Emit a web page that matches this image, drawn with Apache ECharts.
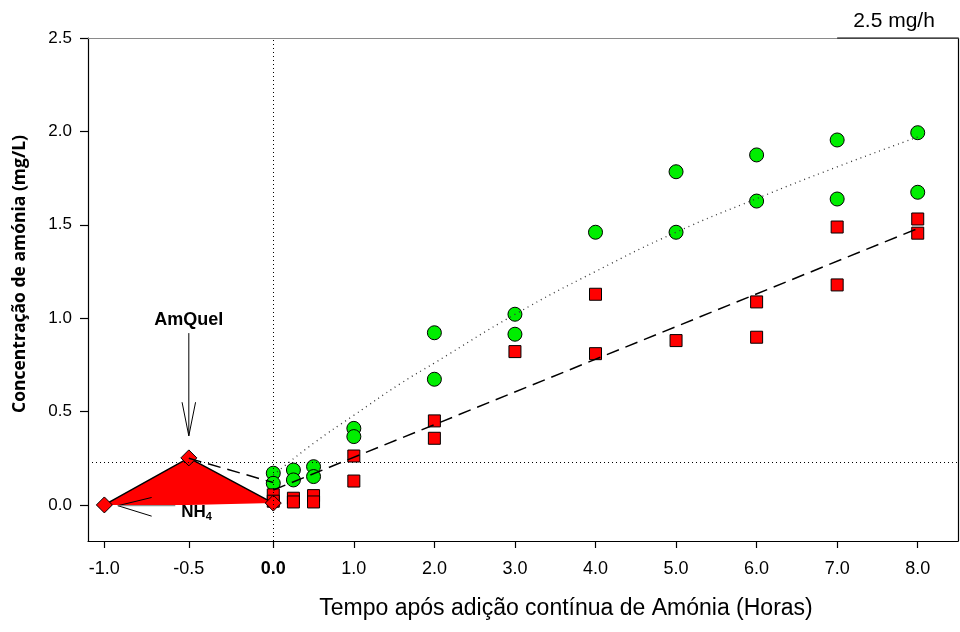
<!DOCTYPE html>
<html>
<head>
<meta charset="utf-8">
<script src="https://cdn.jsdelivr.net/npm/echarts@6/dist/echarts.min.js"></script>
<style>
html,body{margin:0;padding:0;background:#fff;}
#c{width:960px;height:632px;}
</style>
</head>
<body>
<div id="c"></div>
<script>
// ---- data (time in hours, concentration in mg/L) ----
const greenT = [0, 0, 0.25, 0.25, 0.5, 0.5, 1, 1, 2, 2, 3, 3, 4, 5, 5, 6, 6, 7, 7, 8, 8];
const greenV = [0.17, 0.116, 0.187, 0.134, 0.205, 0.152, 0.41, 0.366, 0.922, 0.673, 1.021, 0.914, 1.46, 1.784, 1.46, 1.874, 1.627, 1.954, 1.638, 1.993, 1.674];
const redT = [0, 0, 0.25, 0.25, 0.5, 0.5, 1, 1, 2, 2, 3, 4, 4, 5, 6, 6, 7, 7, 8, 8];
const redV = [0.054, 0.02, 0.036, 0.016, 0.05, 0.016, 0.262, 0.128, 0.45, 0.357, 0.821, 1.128, 0.81, 0.88, 1.087, 0.898, 1.488, 1.178, 1.531, 1.455];
const diamondT = [-1, -0.5, 0];
const diamondV = [0, 0.252, 0.01];
const greenFitT = [0, 0.5, 1, 1.58, 2, 3, 4, 5, 6, 7, 8];
const greenFitV = [0.16, 0.33, 0.48, 0.65, 0.76, 1.02, 1.25, 1.46, 1.64, 1.81, 1.97];
const redFitT = [0, 8];
const redFitV = [0.08, 1.48];
const amquelLinkT = [-0.5, 0];
const amquelLinkV = [0.25, 0.12];
const refLineV = 0.225;
const xTickT = [-1, -0.5, 0, 1, 2, 3, 4, 5, 6, 7, 8];
const xTickLabels = ['-1.0', '-0.5', '0.0', '1.0', '2.0', '3.0', '4.0', '5.0', '6.0', '7.0', '8.0'];
const yTicks = [0, 0.5, 1.0, 1.5, 2.0, 2.5];
const yTickLabels = ['0.0', '0.5', '1.0', '1.5', '2.0', '2.5'];
const rateLabel = '2.5 mg/h';
const xTitle = 'Tempo após adição contínua de Amónia (Horas)';
const yTitle = 'Concentração de amónia (mg/L)';

// the pre-addition hour is drawn wider than the others (broken scale)
const NEG = 2.097;
function toU(t) { return t < 0 ? t * NEG : t; }
function pts(ts, vs) { return ts.map((t, i) => [toU(t), vs[i]]); }

const xTickU = xTickT.map(toU);

const chart = echarts.init(document.getElementById('c'));
const narrow = '"Liberation Sans Narrow", "Arial Narrow", "Liberation Sans", Arial, sans-serif';
const sans = '"Liberation Sans", Arial, sans-serif';

chart.setOption({
  animation: false,
  backgroundColor: '#fff',
  grid: { left: 88, right: 2, top: 38, bottom: 91, containLabel: false, outerBoundsMode: 'none' },
  xAxis: [{
    type: 'value', min: -2.3, max: 8.5,
    splitLine: { show: false },
    axisLine: { show: true, onZero: false, lineStyle: { color: '#000', width: 1.2 } },
    axisTick: { show: true, customValues: xTickU, length: 7, inside: false, lineStyle: { color: '#000', width: 1.2 } },
    axisLabel: {
      customValues: xTickU, margin: 19, fontSize: 18, color: '#000', fontFamily: narrow,
      formatter: function (v) {
        let idx = 0, best = 1e9;
        xTickU.forEach((u, i) => { if (Math.abs(u - v) < best) { best = Math.abs(u - v); idx = i; } });
        return xTickT[idx] === 0 ? '{b|' + xTickLabels[idx] + '}' : xTickLabels[idx];
      },
      rich: { b: { fontWeight: 'bold', fontSize: 18, fontFamily: narrow, color: '#000' } }
    }
  }, {
    type: 'value', min: -2.3, max: 8.5, position: 'top',
    splitLine: { show: false }, axisTick: { show: false }, axisLabel: { show: false },
    axisLine: { show: true, onZero: false, lineStyle: { color: '#8a8a8a', width: 1 } }
  }],
  yAxis: [{
    type: 'value', min: -0.193, max: 2.5,
    splitLine: { show: false },
    axisLine: { show: true, onZero: false, lineStyle: { color: '#000', width: 1.2 } },
    axisTick: { show: true, customValues: yTicks, length: 8, lineStyle: { color: '#000', width: 1.2 } },
    axisLabel: {
      customValues: yTicks, margin: 16, fontSize: 17, color: '#000', fontFamily: sans,
      formatter: function (v) {
        let idx = 0, best = 1e9;
        yTicks.forEach((u, i) => { if (Math.abs(u - v) < best) { best = Math.abs(u - v); idx = i; } });
        return yTickLabels[idx];
      }
    }
  }, {
    type: 'value', min: -0.193, max: 2.5, position: 'right',
    splitLine: { show: false }, axisTick: { show: false }, axisLabel: { show: false },
    axisLine: { show: true, onZero: false, lineStyle: { color: '#000', width: 1.2 } }
  }],
  graphic: [
    { type: 'text', x: 566, y: 609, style: { text: xTitle, fontSize: 23, fontFamily: narrow, fill: '#000', align: 'center', verticalAlign: 'middle' } },
    { type: 'text', x: 894, y: 21, style: { text: rateLabel, fontSize: 21, fontFamily: sans, fill: '#000', align: 'center', verticalAlign: 'middle' } },
    { type: 'text', x: 20, y: 274, rotation: Math.PI / 2, style: { text: yTitle, fontSize: 17.5, fontWeight: 'bold', fontFamily: '"Open Sans", "Noto Sans", sans-serif', fill: '#000', align: 'center', verticalAlign: 'middle' } }
  ],
  series: [
    { // reference lines
      type: 'line', data: [], symbol: 'none', z: 1,
      markLine: {
        silent: true, symbol: ['none', 'none'], label: { show: false },
        lineStyle: { color: '#000', type: [1, 3], width: 1 },
        data: [{ xAxis: 0 }, { yAxis: refLineV }]
      }
    },
    { // black top segment of frame near rate label
      type: 'line', data: [[7.0, 2.5], [8.5, 2.5]], symbol: 'none', clip: false, z: 1,
      lineStyle: { color: '#000', width: 1.2 }
    },
    {
      name: 'verde', type: 'scatter', data: pts(greenT, greenV), symbol: 'circle', symbolSize: 14, z: 3,
      itemStyle: { color: '#00ee00', borderColor: '#000', borderWidth: 1, opacity: 1 }
    },
    {
      name: 'vermelho', type: 'scatter', data: pts(redT, redV), symbol: 'rect', symbolSize: 12, z: 3,
      itemStyle: { color: '#ff0000', borderColor: '#000', borderWidth: 1, opacity: 1 }
    },
    { // AmQuel / NH4 triangle
      name: 'NH4', type: 'line', data: pts(diamondT, diamondV), z: 4,
      symbol: 'diamond', symbolSize: 16,
      itemStyle: { color: '#ff0000', borderColor: '#000', borderWidth: 1, opacity: 1 },
      lineStyle: { color: '#000', width: 1.5 },
      areaStyle: { color: '#ff0000', opacity: 1, origin: 0 }
    },
    {
      type: 'line', data: pts(greenFitT, greenFitV), smooth: true, symbol: 'none', z: 5,
      lineStyle: { color: '#333', width: 1.3, type: [1, 4] }
    },
    {
      type: 'line', data: pts(redFitT, redFitV), symbol: 'none', z: 5,
      lineStyle: { color: '#000', width: 1.5, type: [13, 7] }
    },
    {
      type: 'line', data: pts(amquelLinkT, amquelLinkV), symbol: 'none', z: 5,
      lineStyle: { color: '#000', width: 1.5, type: [13, 7] }
    },
    { // annotation arrows
      type: 'lines', coordinateSystem: 'cartesian2d', polyline: true, z: 5, silent: true,
      lineStyle: { color: '#000', width: 1, opacity: 1 },
      data: [
        { coords: [[toU(-0.5), 0.92], [toU(-0.5), 0.37]] },
        { coords: [[toU(-0.54), 0.55], [toU(-0.5), 0.37], [toU(-0.46), 0.55]] },
        { coords: [[toU(-0.72), 0.04], [toU(-0.92), -0.004], [toU(-0.72), -0.06]] },
        { coords: [[toU(-0.92), -0.004], [toU(-0.58), -0.004]], lineStyle: { color: '#777' } }
      ]
    },
    { // annotation labels
      type: 'scatter', symbolSize: 0, z: 6, silent: true,
      itemStyle: { opacity: 1 },
      data: [
        { value: [toU(-0.5), 0.99], label: { show: true, position: 'inside', formatter: 'AmQuel', fontSize: 18, fontWeight: 'bold', color: '#000', fontFamily: sans } },
        { value: [toU(-0.545), -0.04], label: { show: true, position: 'right', distance: 0, formatter: '{a|NH}{s|4}', rich: {
          a: { fontSize: 17, fontWeight: 'bold', color: '#000', fontFamily: sans },
          s: { fontSize: 11, fontWeight: 'bold', color: '#000', fontFamily: sans, padding: [10, 0, 0, 0] } } } }
      ]
    }
  ]
});
</script>
</body>
</html>
